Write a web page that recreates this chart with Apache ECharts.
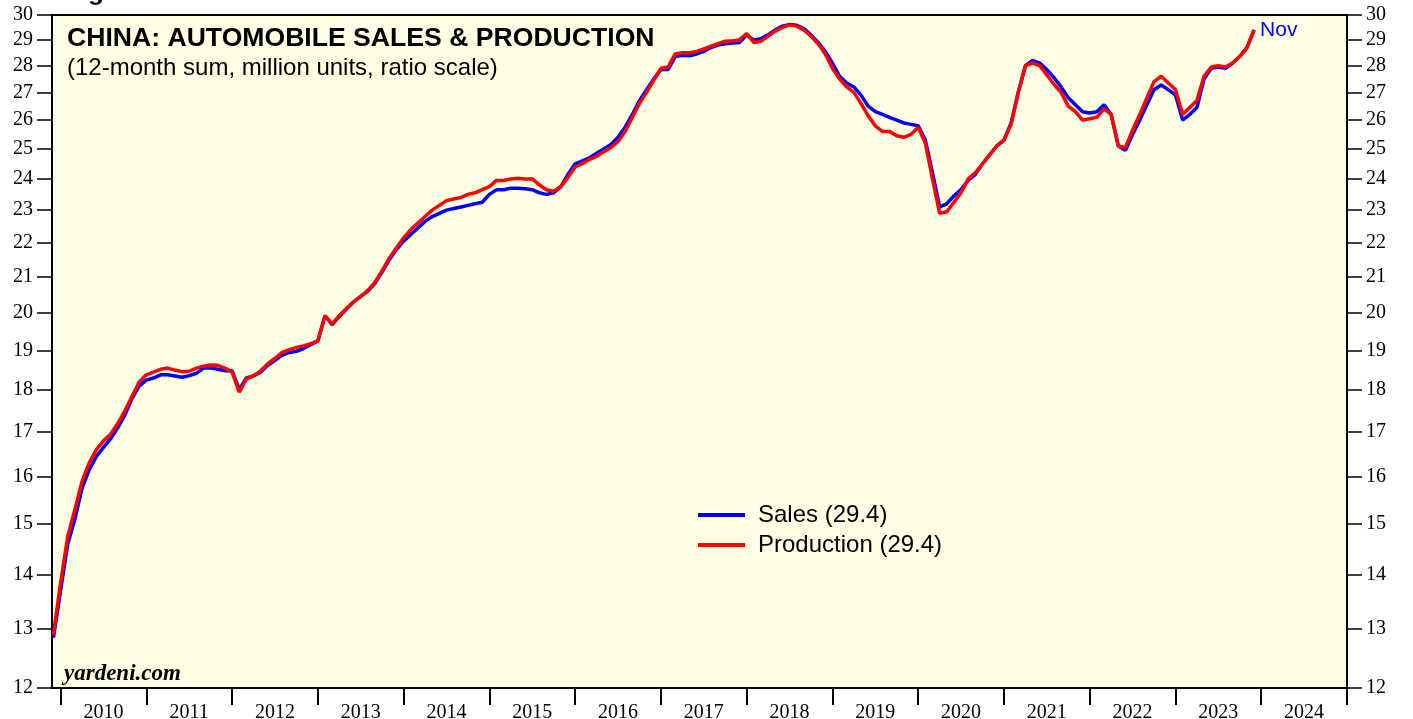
<!DOCTYPE html>
<html>
<head>
<meta charset="utf-8">
<title>China: Automobile Sales & Production</title>
<script src="https://cdn.jsdelivr.net/npm/echarts@6/dist/echarts.min.js"></script>
<style>
  html, body { margin: 0; padding: 0; background: #fff; }
  #chart { width: 1413px; height: 719px; }
</style>
</head>
<body>
<div id="chart"></div>
<script>
// monthly 12-month sums, million units, Nov 2009 .. Nov 2023
const startYear = 2009;
const startMonth = 11;

const salesValues = [
  12.85, 13.7,
  14.6, 15.1, 15.75, 16.15, 16.45, 16.65, 16.85, 17.1, 17.4, 17.8, 18.1, 18.25,
  18.3, 18.38, 18.38, 18.35, 18.32, 18.36, 18.42, 18.55, 18.55, 18.52, 18.48, 18.48,
  18.02, 18.3, 18.35, 18.45, 18.62, 18.75, 18.88, 18.95, 18.98, 19.05, 19.15, 19.25,
  19.92, 19.68, 19.9, 20.1, 20.3, 20.45, 20.6, 20.82, 21.15, 21.5, 21.8, 22.05,
  22.25, 22.45, 22.65, 22.8, 22.9, 23.0, 23.05, 23.1, 23.15, 23.2, 23.25, 23.5,
  23.65, 23.65, 23.7, 23.7, 23.68, 23.65, 23.55, 23.5, 23.55, 23.75, 24.15, 24.5,
  24.6, 24.7, 24.85, 25.0, 25.15, 25.4, 25.75, 26.2, 26.7, 27.1, 27.5, 27.85,
  27.85, 28.35, 28.4, 28.38, 28.45, 28.55, 28.7, 28.8, 28.85, 28.88, 28.9, 29.2,
  29.0, 29.05, 29.2, 29.4, 29.55, 29.62, 29.58, 29.45, 29.2, 28.9, 28.55, 28.1,
  27.6, 27.35, 27.2, 26.9, 26.5, 26.3, 26.2, 26.1, 26.0, 25.9, 25.85, 25.8,
  25.3, 24.2, 23.1, 23.2, 23.45, 23.65, 23.95, 24.15, 24.5, 24.8, 25.1, 25.3,
  25.9, 27.0, 28.0, 28.2, 28.1, 27.85, 27.55, 27.2, 26.8, 26.55, 26.3, 26.25,
  26.3, 26.55, 26.2, 25.1, 24.95, 25.5, 26.0, 26.55, 27.1, 27.27, 27.1, 26.9,
  26.0, 26.2, 26.45, 27.5, 27.9, 27.95, 27.9, 28.1, 28.35, 28.7, 29.4
];

const productionValues = [
  12.9, 13.85,
  14.75, 15.3, 15.9, 16.3, 16.6, 16.8, 16.95, 17.2, 17.5, 17.85, 18.2, 18.38,
  18.45, 18.52, 18.55, 18.5, 18.46, 18.47, 18.55, 18.6, 18.63, 18.62, 18.55, 18.45,
  17.95, 18.28, 18.36, 18.48, 18.66, 18.8, 18.95, 19.02, 19.08, 19.12, 19.18, 19.25,
  19.92, 19.7, 19.92, 20.12, 20.3, 20.45, 20.62, 20.85, 21.18, 21.55, 21.85, 22.15,
  22.4, 22.6, 22.8, 23.0, 23.15, 23.3, 23.35, 23.4, 23.5, 23.55, 23.65, 23.75,
  23.95, 23.95, 24.0, 24.02, 24.0, 24.0, 23.8, 23.65, 23.6, 23.75, 24.05, 24.4,
  24.5, 24.65, 24.75, 24.9, 25.05, 25.25, 25.6, 26.1, 26.6, 27.0, 27.45, 27.9,
  27.95, 28.45, 28.5, 28.5, 28.55, 28.65, 28.75, 28.85, 28.95, 28.97, 29.0, 29.25,
  28.9, 28.95, 29.15, 29.35, 29.5, 29.6, 29.55, 29.4, 29.15, 28.85, 28.45, 27.9,
  27.5, 27.2, 27.0, 26.6, 26.15, 25.8, 25.6, 25.6, 25.45, 25.4, 25.5, 25.75,
  25.2, 24.0, 22.9, 22.95, 23.25, 23.55, 24.0, 24.2, 24.5, 24.8, 25.1, 25.3,
  25.85, 27.0, 28.0, 28.1, 28.0, 27.65, 27.3, 27.0, 26.5, 26.3, 26.0, 26.05,
  26.1, 26.4, 26.2, 25.1, 25.05, 25.65, 26.2, 26.8, 27.4, 27.6, 27.35, 27.1,
  26.2, 26.45, 26.7, 27.6, 27.95, 28.0, 27.95, 28.1, 28.35, 28.7, 29.4
];

const yTicks = [12, 13, 14, 15, 16, 17, 18, 19, 20, 21, 22, 23, 24, 25, 26, 27, 28, 29, 30];
const yearTicks = [2010, 2011, 2012, 2013, 2014, 2015, 2016, 2017, 2018, 2019, 2020, 2021, 2022, 2023, 2024, 2025];
const yearLabels = yearTicks.slice(0, -1).map(y => y + 0.5);

// each month sits at the end of its month on the year axis
const monthPos = i => startYear + (startMonth + i) / 12;
const toPairs = arr => arr.map((v, i) => [monthPos(i), v]);

const axisFont = { fontFamily: 'Liberation Serif', fontSize: 20, color: '#000' };

const yAxisBase = {
  type: 'log',
  logBase: 10,
  min: 12,
  max: 30,
  axisLine: { show: false },
  splitLine: { show: false },
  axisTick: { show: true, length: 15, customValues: yTicks, lineStyle: { color: '#000', width: 1.5 } },
  axisLabel: {
    ...axisFont, margin: 19, padding: [16, 0, 0, 0],
    customValues: yTicks, formatter: v => String(Math.round(v)),
  },
};

const chart = echarts.init(document.getElementById('chart'), null, { renderer: 'canvas' });

chart.setOption({
  animation: false,
  backgroundColor: '#fff',
  grid: {
    left: 52, right: 66, top: 15, bottom: 31,
    outerBoundsMode: 'none',
    containLabel: false,
    show: true,
    backgroundColor: '#ffffe4',
    borderColor: '#000',
    borderWidth: 2,
  },
  xAxis: {
    type: 'value',
    min: 2009.9,
    max: 2025,
    axisLine: { show: false },
    splitLine: { show: false },
    axisTick: { show: true, length: 17, customValues: yearTicks, lineStyle: { color: '#000', width: 2 } },
    axisLabel: { ...axisFont, margin: 15, customValues: yearLabels, formatter: v => String(Math.floor(v)) },
  },
  yAxis: [
    { ...yAxisBase, position: 'left' },
    { ...yAxisBase, position: 'right' },
  ],
  legend: {
    orient: 'vertical',
    left: 698,
    top: 503,
    padding: 0,
    itemWidth: 47,
    itemHeight: 4,
    itemGap: 6,
    icon: 'rect',
    textStyle: { fontFamily: 'Liberation Sans', fontSize: 24, color: '#000', padding: [0, 0, 0, 8] },
    data: ['Sales (29.4)', 'Production (29.4)'],
  },
  graphic: [
    {
      type: 'text', left: 65, top: -20,
      style: { text: 'Figure 1.', font: 'bold 26px "Liberation Sans"', fill: '#000' },
    },
    {
      type: 'text', left: 67, top: 25,
      style: { text: 'CHINA: AUTOMOBILE SALES & PRODUCTION', font: 'bold 26.6px "Liberation Sans"', fill: '#000' },
    },
    {
      type: 'text', left: 67, top: 56,
      style: { text: '(12-month sum, million units, ratio scale)', font: '24px "Liberation Sans"', fill: '#000' },
    },
    {
      type: 'text', left: 64, top: 663,
      style: { text: 'yardeni.com', font: 'italic bold 23px "Liberation Serif"', fill: '#000' },
    },
  ],
  series: [
    {
      name: 'Sales (29.4)',
      type: 'line',
      color: '#0000ff',
      showSymbol: false,
      lineStyle: { width: 3.5, color: '#0000ff' },
      data: toPairs(salesValues),
      endLabel: {
        show: true,
        formatter: 'Nov',
        color: '#0000ff',
        fontFamily: 'Liberation Sans',
        fontSize: 21,
        distance: 6,
      },
    },
    {
      name: 'Production (29.4)',
      type: 'line',
      color: '#ff0000',
      showSymbol: false,
      lineStyle: { width: 3.5, color: '#ff0000' },
      data: toPairs(productionValues),
    },
  ],
});
</script>
</body>
</html>
